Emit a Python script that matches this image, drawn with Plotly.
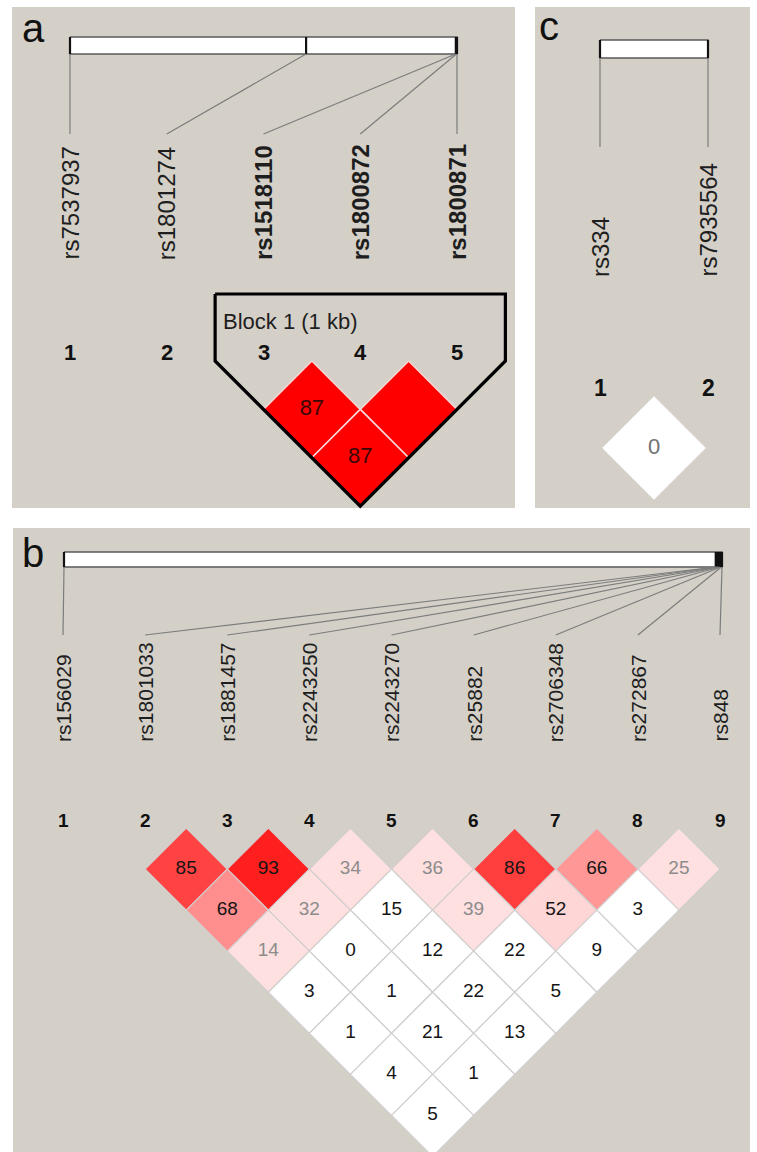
import plotly.graph_objects as go

# ---------------- data ----------------
# Panel a
a_snps = ["rs7537937", "rs1801274", "rs1518110", "rs1800872", "rs1800871"]
a_track = [0.0, 0.61, 0.997, 0.9985, 1.0]          # relative position on the region track
a_block = [3, 4, 5]                                  # markers in Block 1
a_block_label = "Block 1 (1 kb)"
a_pair_i = [3, 4, 3]
a_pair_j = [4, 5, 5]
a_dprime = [87, 100, 87]
a_lod2 = [True, True, True]

# Panel b
b_snps = ["rs156029", "rs1801033", "rs1881457", "rs2243250", "rs2243270",
          "rs25882", "rs2706348", "rs272867", "rs848"]
b_track = [0.0, 0.9905, 0.992, 0.9935, 0.995, 0.9965, 0.998, 0.999, 1.0]
b_ld_first = 2                                       # LD plot covers markers 2..9
b_dprime_rows = [[85, 93, 34, 36, 86, 66, 25],
                 [68, 32, 15, 39, 52, 3],
                 [14, 0, 12, 22, 9],
                 [3, 1, 22, 5],
                 [1, 21, 13],
                 [4, 1],
                 [5]]
b_lod2_rows = [[1, 1, 1, 1, 1, 1, 1],
               [1, 1, 0, 1, 1, 0],
               [1, 0, 0, 0, 0],
               [0, 0, 0, 0],
               [0, 0, 0],
               [0, 0],
               [0]]

# Panel c
c_snps = ["rs334", "rs7935564"]
c_track = [0.0, 1.0]
c_pair_i = [1]
c_pair_j = [2]
c_dprime = [0]
c_lod2 = [False]

# ---------------- styles / layout ----------------
FONT = "Liberation Sans, Arial, sans-serif"
PANEL_BG = "#D4D0C8"
W, H = 757, 1152

P = {
    "a": dict(bg=(12, 7, 515, 508), letter=(33, 28), bar=(70, 457, 37, 54), x0=70, step=96.75,
              line_end=134, label_bottom=261, label_size=24, num_y=352, num_size=22,
              tri_top=361, cell_scale=1.0, cell_font=22, scheme="solid",
              outline="#F4D8D8", outline_w=1.5),
    "c": dict(bg=(535, 7, 750, 508), letter=(549, 26), bar=(600, 708, 40, 58), x0=600, step=108,
              line_end=147, label_bottom=278, label_size=24, num_y=388, num_size=23,
              tri_top=394, cell_scale=0.95, cell_font=22, scheme="haplo",
              outline="white", outline_w=1, text_color="#707070"),
    "b": dict(bg=(13, 528, 750, 1152), letter=(33, 553), bar=(64, 722, 552, 567), x0=63, step=82.125,
              line_end=635, label_bottom=743, label_size=21, num_y=820, num_size=19,
              tri_top=828, cell_scale=1.0, cell_font=19, scheme="haplo",
              outline="#D2CECE", outline_w=1.2),
}


def haplo_color(d, lod2, scheme):
    if scheme == "solid":
        return "rgb(255,0,0)" if lod2 else "white"
    if lod2:
        if d < 50:
            return "rgb(255,224,224)"
        g = int(223 * 2 * (1 - d / 100))
        return f"rgb(255,{g},{g})"
    return "rgb(192,192,240)" if d >= 99 else "white"


def text_color(d, lod2, scheme):
    if scheme == "solid":
        return "#3a0606"
    if lod2 and d < 50:
        return "#8c8c8c"
    return "#151515"


fig = go.Figure()
shapes = []
annotations = []


def add_panel(key, snps, track, pair_i, pair_j, dprime, lod2, bold=(), block=None):
    p = P[key]
    x0b, y0b, x1b, y1b = p["bg"]
    shapes.append(dict(type="rect", x0=x0b, x1=x1b, y0=y0b, y1=y1b, xref="x", yref="y",
                       fillcolor=PANEL_BG, line=dict(width=0), layer="below"))
    annotations.append(dict(x=p["letter"][0], y=p["letter"][1], text=key, showarrow=False,
                            font=dict(family=FONT, size=40, color="#111"),
                            xanchor="center", yanchor="middle", borderpad=0))

    def X(i):
        return p["x0"] + p["step"] * (i - 1)

    bx0, bx1, by0, by1 = p["bar"]
    # region track
    fig.add_trace(go.Scatter(x=[bx0, bx1, bx1, bx0, bx0], y=[by0, by0, by1, by1, by0],
                             mode="lines", fill="toself", fillcolor="white",
                             line=dict(color="#5a5a5a", width=1.5), hoverinfo="skip"))
    for k, t in enumerate(track):
        tx = bx0 + t * (bx1 - bx0)
        fig.add_trace(go.Scatter(x=[tx, tx], y=[by0, by1], mode="lines",
                                 line=dict(color="#111", width=2.2), hoverinfo="skip"))
        fig.add_trace(go.Scatter(x=[tx, X(k + 1)], y=[by1, p["line_end"]], mode="lines",
                                 line=dict(color="#7c7c7c", width=1.2), hoverinfo="skip"))
        name = snps[k]
        if (k + 1) in bold:
            name = f"<b>{name}</b>"
        annotations.append(dict(x=X(k + 1), y=p["label_bottom"], text=name, textangle=-90,
                                showarrow=False, xanchor="center", yanchor="bottom", borderpad=0,
                                font=dict(family=FONT, size=p["label_size"], color="#1e1e1e")))
        annotations.append(dict(x=X(k + 1), y=p["num_y"], text=f"<b>{k + 1}</b>",
                                showarrow=False, xanchor="center", yanchor="middle", borderpad=0,
                                font=dict(family=FONT, size=p["num_size"], color="#111")))

    # LD cells
    h = p["step"] / 2 * p["cell_scale"]
    tx_, ty_, tt_, tc_ = [], [], [], []
    for i, j, d, l in zip(pair_i, pair_j, dprime, lod2):
        cx = (X(i) + X(j)) / 2
        cy = p["tri_top"] + (j - i) * p["step"] / 2
        fig.add_trace(go.Scatter(x=[cx, cx + h, cx, cx - h, cx], y=[cy - h, cy, cy + h, cy, cy - h],
                                 mode="lines", fill="toself", fillcolor=haplo_color(d, l, p["scheme"]),
                                 line=dict(color=p["outline"], width=p["outline_w"]),
                                 hoverinfo="skip"))
        if d < 100:
            tx_.append(cx)
            ty_.append(cy)
            tt_.append(str(d))
            tc_.append(p.get("text_color", text_color(d, l, p["scheme"])))
    fig.add_trace(go.Scatter(x=tx_, y=ty_, text=tt_, mode="text", textposition="middle center",
                             textfont=dict(family=FONT, size=p["cell_font"], color=tc_),
                             hoverinfo="skip"))

    if block:
        f, l = block[0], block[-1]
        left = X(f) - p["step"] / 2
        right = X(l) + p["step"] / 2
        top = 294
        bot_x = (X(f) + X(l)) / 2
        bot_y = p["tri_top"] + (l - f + 1) * p["step"] / 2
        fig.add_trace(go.Scatter(x=[left, right, right, bot_x, left, left],
                                 y=[top, top, p["tri_top"], bot_y, p["tri_top"], top],
                                 mode="lines", line=dict(color="black", width=3.2),
                                 hoverinfo="skip"))
        annotations.append(dict(x=left + 7, y=321, text=a_block_label, showarrow=False,
                                xanchor="left", yanchor="middle", borderpad=0,
                                font=dict(family=FONT, size=22, color="#1e1e1e")))


add_panel("a", a_snps, a_track, a_pair_i, a_pair_j, a_dprime, a_lod2, bold=a_block, block=a_block)
add_panel("c", c_snps, c_track, c_pair_i, c_pair_j, c_dprime, c_lod2)

# panel b pairs from the row structure
b_pi, b_pj, b_d, b_l = [], [], [], []
for r, (row, lrow) in enumerate(zip(b_dprime_rows, b_lod2_rows)):
    for k, (d, l) in enumerate(zip(row, lrow)):
        i = b_ld_first + k
        b_pi.append(i)
        b_pj.append(i + r + 1)
        b_d.append(d)
        b_l.append(bool(l))
add_panel("b", b_snps, b_track, b_pi, b_pj, b_d, b_l)

fig.update_layout(
    width=W, height=H, margin=dict(l=0, r=0, t=0, b=0),
    paper_bgcolor="white", plot_bgcolor="white", showlegend=False,
    xaxis=dict(range=[0, W], visible=False, fixedrange=True),
    yaxis=dict(range=[H, 0], visible=False, fixedrange=True),
    shapes=shapes, annotations=annotations,
)
fig.write_html("out.html", config={"displayModeBar": False, "staticPlot": True},
               post_script="document.body.style.margin='0';document.body.style.overflow='hidden';")
